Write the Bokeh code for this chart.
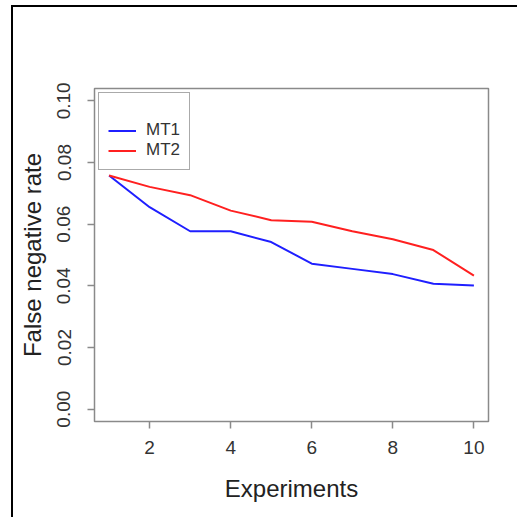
from bokeh.plotting import figure
from bokeh.models import Range1d, FixedTicker, Legend, LegendItem
from bokeh.embed import file_html
from bokeh.resources import INLINE

experiments = [1, 2, 3, 4, 5, 6, 7, 8, 9, 10]
mt1 = [0.0758, 0.0655, 0.0577, 0.0577, 0.0542, 0.0472, 0.0455, 0.0438, 0.0407, 0.0401]
mt2 = [0.0758, 0.0721, 0.0694, 0.0644, 0.0613, 0.0608, 0.0577, 0.0551, 0.0516, 0.0433]
x_ticks = [2, 4, 6, 8, 10]
y_ticks = [0.0, 0.02, 0.04, 0.06, 0.08, 0.10]
y_tick_labels = ["0.00", "0.02", "0.04", "0.06", "0.08", "0.10"]

FONT = "Liberation Sans"
GREY = "#8a8a8a"

p = figure(width=506, height=512, output_backend="svg", toolbar_location=None,
           x_range=Range1d(0.64, 10.36), y_range=Range1d(-0.004, 0.104),
           min_border_left=81, min_border_right=31, min_border_top=81, min_border_bottom=98)
p.margin = (5, 0, 0, 11)
p.styles = {"border-left": "2px solid black", "border-top": "2px solid black"}
p.grid.visible = False
p.outline_line_color = GREY
p.outline_line_width = 1.5
p.background_fill_color = "white"
p.border_fill_color = "white"

r1 = p.line(experiments, mt1, line_color="#1f1fff", line_width=2)
r2 = p.line(experiments, mt2, line_color="#ff2020", line_width=2)

for ax in (p.xaxis[0], p.yaxis[0]):
    ax.axis_line_color = None
    ax.major_tick_line_color = GREY
    ax.major_tick_line_width = 1.5
    ax.major_tick_out = 7
    ax.major_tick_in = 0
    ax.minor_tick_line_color = None
    ax.major_label_text_font = FONT
    ax.major_label_text_font_size = "19px"
    ax.major_label_text_color = "#333333"
    ax.axis_label_text_font = FONT
    ax.axis_label_text_font_size = "24px"
    ax.axis_label_text_font_style = "normal"
    ax.axis_label_text_color = "#222222"

p.xaxis.ticker = FixedTicker(ticks=x_ticks)
p.yaxis.ticker = FixedTicker(ticks=y_ticks)
p.yaxis.major_label_overrides = {t: l for t, l in zip(y_ticks, y_tick_labels)}
p.yaxis.major_label_orientation = "vertical"
p.xaxis.major_label_standoff = 12
p.yaxis.major_label_standoff = 17
p.xaxis.axis_label = "Experiments"
p.yaxis.axis_label = "False negative rate"
p.xaxis.axis_label_standoff = 18
p.yaxis.axis_label_standoff = 9

legend = Legend(items=[LegendItem(label="MT1", renderers=[r1]),
                       LegendItem(label="MT2", renderers=[r2])],
                location="top_left", margin=4, padding=9, spacing=0,
                title=" ", title_text_font_size="12px", title_standoff=4,
                label_text_font=FONT, label_text_font_size="17px",
                label_text_color="#333333",
                label_height=19, glyph_height=19, glyph_width=28, label_standoff=10,
                border_line_color="#555555", border_line_width=1.5,
                background_fill_alpha=1.0)
p.add_layout(legend)

open("out.html", "w").write(file_html(p, INLINE))
